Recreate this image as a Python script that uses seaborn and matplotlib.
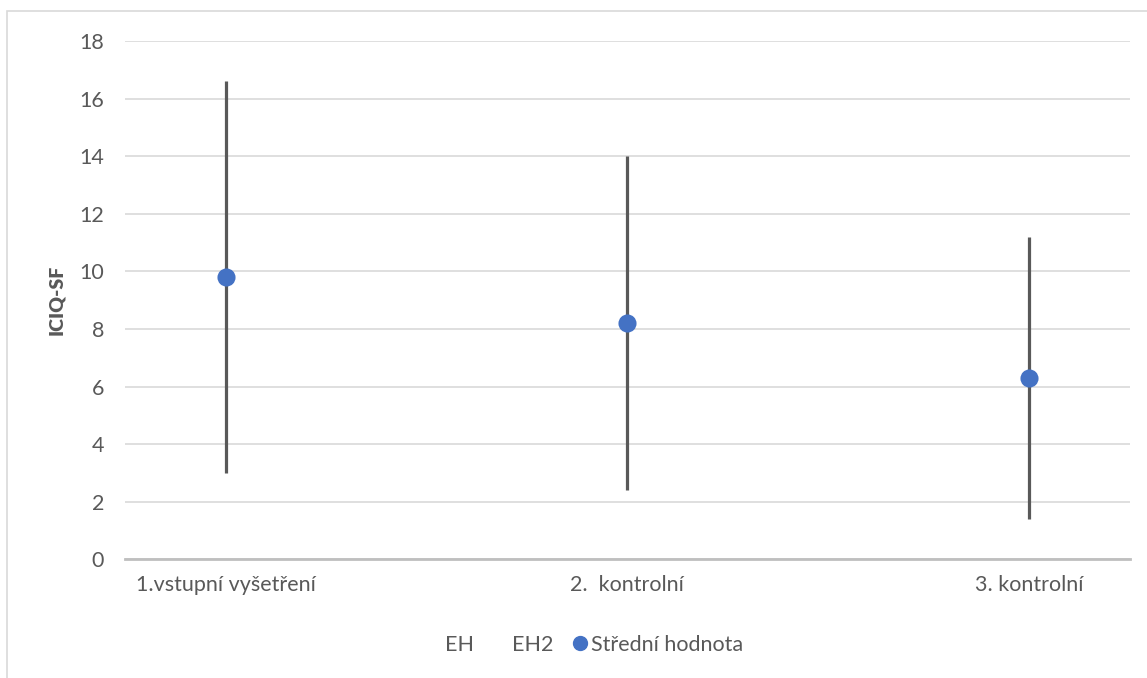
import matplotlib.pyplot as plt
from matplotlib.lines import Line2D
from matplotlib.patches import Rectangle
import pandas as pd
import seaborn as sns

categories = ['1.vstupní vyšetření', '2.  kontrolní', '3. kontrolní']
means = [9.8, 8.2, 6.3]
lows = [3.0, 2.4, 1.4]
highs = [16.6, 14.0, 11.2]

df = pd.DataFrame({'kontrola': categories, 'ICIQ-SF': means})

sns.set_theme(style='white')
plt.rcParams['font.family'] = ['Lato', 'DejaVu Sans']

txt = '#595959'
fig, ax = plt.subplots(figsize=(11.47, 6.78), dpi=100)
fig.subplots_adjust(left=0.109, right=0.985, top=0.9395, bottom=0.1748)

ax.vlines(range(len(categories)), lows, highs, color='#595959', lw=2.3, zorder=2)
sns.pointplot(data=df, x='kontrola', y='ICIQ-SF', linestyle='none', errorbar=None,
              color='#4472C4', markersize=11, ax=ax, zorder=3)

ax.set_xlim(-0.25, 2.25)
ax.set_ylim(0, 18)
ax.set_yticks(range(0, 19, 2))
ax.yaxis.grid(True, color='#d9d9d9', lw=1.2)
ax.set_axisbelow(True)
for s in ['top', 'right', 'left']:
    ax.spines[s].set_visible(False)
ax.spines['bottom'].set_color('#bfbfbf')
ax.spines['bottom'].set_linewidth(2)
ax.tick_params(axis='both', length=0, labelsize=15.5, colors=txt)
ax.tick_params(axis='y', pad=15)
ax.tick_params(axis='x', pad=11)
ax.set_xlabel('')
ax.set_ylabel('ICIQ-SF', fontsize=14, fontweight='heavy', color=txt, labelpad=10)

handles = [Line2D([], [], linestyle='none', marker=None),
           Line2D([], [], linestyle='none', marker=None),
           Line2D([], [], linestyle='none', marker='o', color='#4472C4', markersize=10)]
fig.legend(handles, ['EH', 'EH2', 'Střední hodnota'], loc='center', ncol=3,
           bbox_to_anchor=(0.51, 0.049), frameon=False, fontsize=15.5,
           labelcolor=txt, handlelength=0.7, handletextpad=0.15, columnspacing=0.9)

fig.patches.append(Rectangle((7 / 1147, -0.1), 1.2, 1.1 - 11 / 678, transform=fig.transFigure,
                             fill=False, edgecolor='#d9d9d9', lw=1.2, figure=fig))

plt.savefig('out.png', dpi=100)
